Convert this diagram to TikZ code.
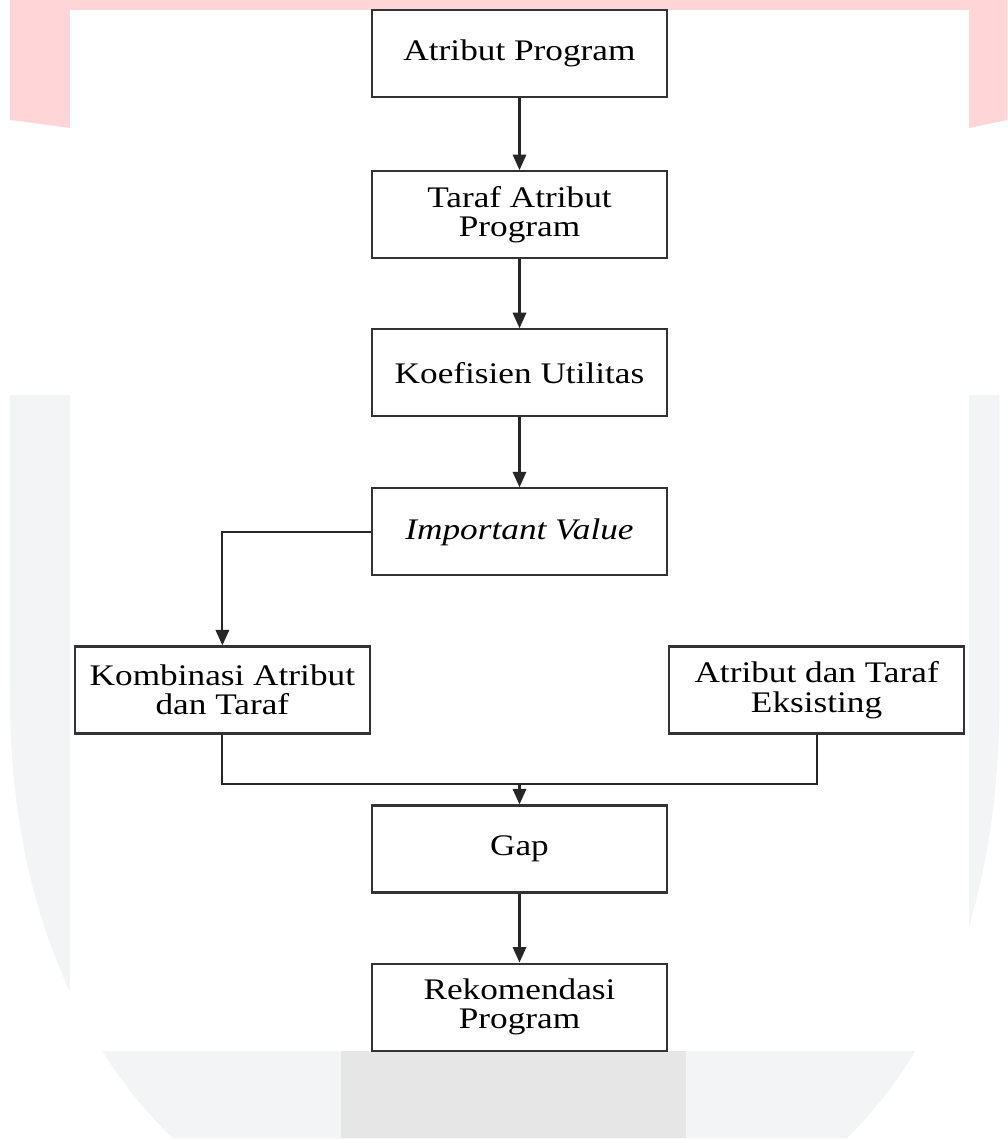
\documentclass[tikz,border=0pt]{standalone}
\usepackage{fontspec}
\setmainfont{Liberation Serif}[FakeStretch=1.18]
\usepackage{tikz}
\usetikzlibrary{arrows.meta,positioning,calc}
\definecolor{wmpink}{RGB}{255,213,216}
\definecolor{wmgrey}{RGB}{243,244,246}
\definecolor{wmdark}{RGB}{230,230,230}
\tikzset{
  box/.style={draw=black!80, line width=0.6pt, fill=white, minimum width=2.95cm, minimum height=0.87cm, align=center, inner sep=2pt, font=\fontsize{8.5}{8.4}\selectfont},
  line/.style={draw=black!85, line width=0.6pt},
  arr/.style={line, -{Triangle[length=4.4pt,width=3.8pt]}}
}

\begin{document}
\begin{tikzpicture}
\useasboundingbox (0,0) rectangle (10.08,-11.39);
% watermark behind the chart
\begin{scope}[x=0.01cm,y=-0.01cm]
  \fill[wmpink] (10,0) -- (1008,0) -- (1008,120) -- (970,128) -- (70,128) -- (10,120) -- cycle;
  \fill[wmgrey] (10,395) -- (10,700) .. controls (10,900) and (80,1050) .. (173,1139)
    -- (847,1139) .. controls (940,1050) and (1000,900) .. (1000,700) -- (1000,395) -- cycle;
  \fill[white] (70,10) rectangle (970,1052);
  \fill[wmdark] (341,1052) rectangle (686,1139);
\end{scope}

\node[box] (atr) at (5.195,-0.535) {Atribut Program};
\node[box, below=0.72cm of atr] (taraf) {Taraf Atribut\\Program};
\node[box, below=0.69cm of taraf] (koef) {Koefisien Utilitas};
\node[box, below=0.70cm of koef] (imp) {\textit{Important Value}};
\node[box, below left=0.69cm and 0cm of imp.south west] (komb) {Kombinasi Atribut\\dan Taraf};
\node[box, below right=0.69cm and 0cm of imp.south east] (ekst) {Atribut dan Taraf\\Eksisting};
\node[box, below=2.28cm of imp] (gap) {Gap};
\node[box, below=0.69cm of gap] (rek) {Rekomendasi\\Program};
\coordinate[above=0.20cm of gap.north] (join);

\draw[arr] (atr) -- (taraf);
\draw[arr] (taraf) -- (koef);
\draw[arr] (koef) -- (imp);
\draw[arr] (imp.west) -| (komb.north);
\draw[line] (komb.south) |- (join) -| (ekst.south);
\draw[arr] (join) -- (gap.north);
\draw[arr] (gap) -- (rek);
\end{tikzpicture}
\end{document}
